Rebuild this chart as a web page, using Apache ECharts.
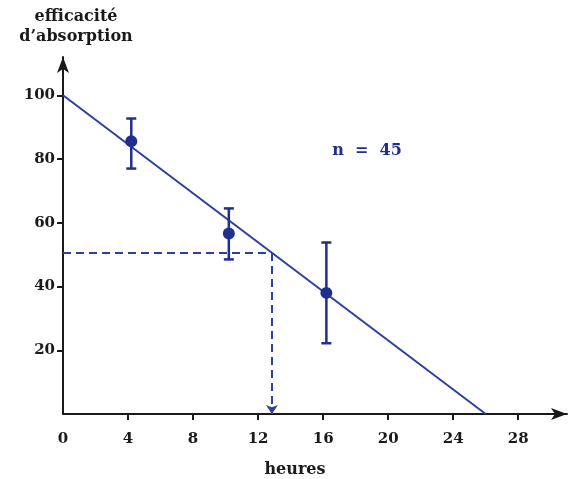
<!DOCTYPE html>
<html>
<head>
<meta charset="utf-8">
<script src="https://cdn.jsdelivr.net/npm/echarts@6/dist/echarts.min.js"></script>
<style>html,body{margin:0;padding:0;background:#fff}#c{width:570px;height:479px}</style>
</head>
<body>
<div id="c"></div>
<script>
// ---- data ----
const hours = [4.2, 10.2, 16.2];
const efficacy = [85.6, 56.6, 38.0];
const errLow = [77.0, 48.5, 22.2];
const errHigh = [92.7, 64.5, 53.8];
const fitX = [0, 26];
const fitY = [100, 0];
const readX = 12.85;
const readY = 50.5;
const xTicks = [0, 4, 8, 12, 16, 20, 24, 28];
const yTicks = [20, 40, 60, 80, 100];
const yTitle = 'efficacité\nd’absorption';
const xTitle = 'heures';
const nLabel = 'n = 45';

const BLUE = '#2c40a0';
const DARK = '#1f2f8c';
const INK = '#1a1a1a';
const FONT = 'DejaVu Serif';

const chart = echarts.init(document.getElementById('c'), null, {renderer: 'canvas'});

const points = hours.map((h, i) => [h, efficacy[i]]);
const errData = hours.map((h, i) => [h, errLow[i], errHigh[i]]);
const fitData = fitX.map((x, i) => [x, fitY[i]]);

chart.setOption({
  animation: false,
  backgroundColor: '#fff',
  grid: {left: 63, right: 3, top: 57, bottom: 65},
  xAxis: {
    type: 'value', min: 0, max: 31,
    axisLine: {lineStyle: {color: INK, width: 2}, symbol: ['none', 'arrow'], symbolSize: [9, 16]},
    axisTick: {show: true, length: 6, lineStyle: {color: INK, width: 2}, customValues: xTicks.filter(v => v > 0)},
    axisLabel: {customValues: xTicks, color: INK, fontFamily: FONT, fontWeight: 'bold', fontSize: 15, margin: 18},
    splitLine: {show: false}
  },
  yAxis: {
    type: 'value', min: 0, max: 112,
    axisLine: {lineStyle: {color: INK, width: 2}, symbol: ['none', 'arrow'], symbolSize: [9, 16]},
    axisTick: {show: true, length: 6, lineStyle: {color: INK, width: 2}, customValues: yTicks},
    axisLabel: {customValues: yTicks, color: INK, fontFamily: FONT, fontWeight: 'bold', fontSize: 15, margin: 8},
    splitLine: {show: false}
  },
  graphic: [
    {type: 'text', style: {x: 76, y: 7, text: yTitle, textAlign: 'center', fill: INK,
      font: 'bold 16px "DejaVu Serif"', lineHeight: 20}},
    {type: 'text', style: {x: 295, y: 462, text: xTitle, textAlign: 'center', fill: INK,
      font: 'bold 16px "DejaVu Serif"'}},
    {type: 'text', style: {x: 367, y: 143, text: nLabel.replace(/ /g, '  '), textAlign: 'center', fill: DARK,
      font: 'bold 16px "DejaVu Serif"'}}
  ],
  series: [
    {
      type: 'line', data: fitData, symbol: 'none',
      lineStyle: {color: BLUE, width: 2}, z: 2
    },
    {
      type: 'lines', coordinateSystem: 'cartesian2d',
      data: [
        {coords: [[0, readY], [readX, readY]], symbol: ['none', 'none']},
        {coords: [[readX, readY], [readX, 0]], symbol: ['none', 'arrow'], symbolSize: 9}
      ],
      lineStyle: {color: BLUE, width: 2, type: [8, 5], opacity: 1}, z: 2
    },
    {
      type: 'custom',
      data: errData,
      renderItem: function (params, api) {
        const x = api.value(0);
        const lo = api.coord([x, api.value(1)]);
        const hi = api.coord([x, api.value(2)]);
        const half = 5;
        const st = {stroke: DARK, lineWidth: 2.5};
        return {type: 'group', children: [
          {type: 'line', shape: {x1: lo[0], y1: lo[1], x2: hi[0], y2: hi[1]}, style: st},
          {type: 'line', shape: {x1: lo[0] - half, y1: lo[1], x2: lo[0] + half, y2: lo[1]}, style: st},
          {type: 'line', shape: {x1: hi[0] - half, y1: hi[1], x2: hi[0] + half, y2: hi[1]}, style: st}
        ]};
      },
      z: 3
    },
    {
      type: 'scatter', data: points, symbol: 'circle', symbolSize: 12,
      itemStyle: {color: DARK, opacity: 1}, z: 4
    }
  ]
});
</script>
</body>
</html>
